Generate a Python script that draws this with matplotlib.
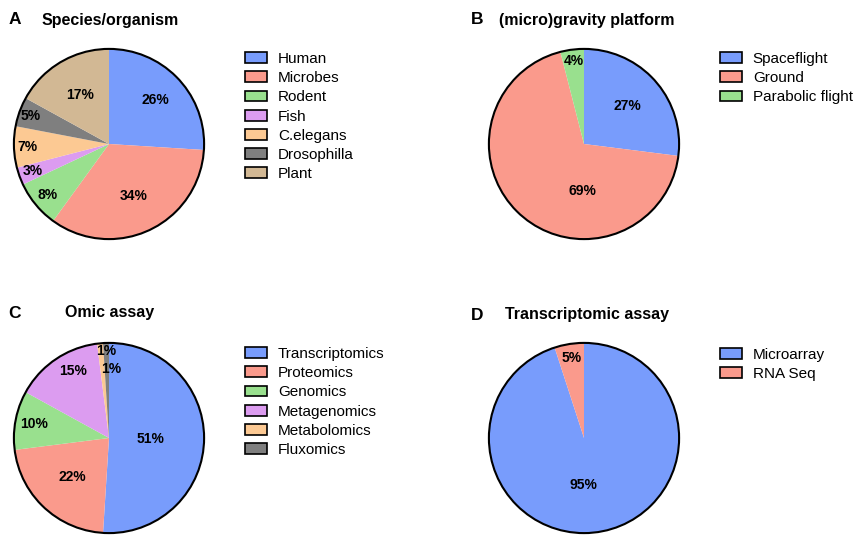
import numpy as np
import matplotlib
matplotlib.use("Agg")
import matplotlib.pyplot as plt
from matplotlib.patches import Patch, Circle

plt.rcParams['font.family'] = ['Liberation Sans', 'DejaVu Sans']

# ---- data ----
species_labels = ["Human", "Microbes", "Rodent", "Fish", "C.elegans", "Drosophilla", "Plant"]
species_values = [26, 34, 8, 3, 7, 5, 17]

platform_labels = ["Spaceflight", "Ground", "Parabolic flight"]
platform_values = [27, 69, 4]

omic_labels = ["Transcriptomics", "Proteomics", "Genomics", "Metagenomics", "Metabolomics", "Fluxomics"]
omic_values = [51, 22, 10, 15, 1, 1]

transcript_labels = ["Microarray", "RNA Seq"]
transcript_values = [95, 5]

# ---- styles ----
BLUE = "#789cfc"
RED = "#fa9a8c"
GREEN = "#99e08e"
PINK = "#dc9cf0"
ORANGE = "#fcc993"
GRAY = "#7f7f7f"
TAN = "#d2b894"

W, H = 857, 536
fig = plt.figure(figsize=(W / 100, H / 100), dpi=100)
R = 97


def draw_pie(cx, cy, values, labels, colors, dists, legend_xy, title_letter, letter_xy, title, title_xy,
             label_override=None):
    ax = fig.add_axes([(cx - R) / W, (H - cy - R) / H, 2 * R / W, 2 * R / H])
    wedges, texts, autotexts = ax.pie(values, colors=colors, startangle=90, counterclock=False,
                                      autopct=lambda p: f"{p:.0f}%", radius=1,
                                      wedgeprops=dict(linewidth=0),
                                      textprops=dict(fontsize=10, fontweight='bold', color='black'))
    ax.add_patch(Circle((0, 0), 1, fill=False, edgecolor='black', linewidth=1.5))
    for w, t, d in zip(wedges, autotexts, dists):
        ang = np.deg2rad((w.theta1 + w.theta2) / 2)
        t.set_position((d * np.cos(ang), d * np.sin(ang)))
    if label_override:
        for i, pos in label_override.items():
            autotexts[i].set_position(pos)
    ax.set_xlim(-1.02, 1.02)
    ax.set_ylim(-1.02, 1.02)
    ax.set_aspect('equal')
    ax.axis('off')
    handles = [Patch(facecolor=c, edgecolor='black', linewidth=1.2) for c in colors]
    fig.legend(handles, labels, loc='upper left',
               bbox_to_anchor=(legend_xy[0] / W, 1 - legend_xy[1] / H),
               frameon=False, fontsize=11, handlelength=1.45, handleheight=0.72,
               handletextpad=0.7, labelspacing=0.34, borderpad=0, borderaxespad=0)
    fig.text(letter_xy[0] / W, 1 - letter_xy[1] / H, title_letter, fontsize=12.5, fontweight='bold',
             va='center', ha='left')
    fig.text(title_xy[0] / W, 1 - title_xy[1] / H, title, fontsize=11.5, fontweight='bold',
             va='center', ha='left')


draw_pie(109, 144, species_values, species_labels, [BLUE, RED, GREEN, PINK, ORANGE, GRAY, TAN],
         [0.67, 0.61, 0.84, 0.85, 0.86, 0.88, 0.6], (245, 52), "A", (9, 20), "Species/organism", (42, 20))

draw_pie(584, 144, platform_values, platform_labels, [BLUE, RED, GREEN],
         [0.61, 0.5, 0.88], (720, 52), "B", (471, 20), "(micro)gravity platform", (499, 20),
         label_override={1: (-0.02, -0.49)})

draw_pie(109, 438, omic_values, omic_labels, [BLUE, RED, GREEN, PINK, ORANGE, GRAY],
         [0.44, 0.56, 0.80, 0.8, 0.92, 0.72], (245, 347), "C", (8, 313), "Omic assay", (65, 313),
         label_override={3: (-0.38, 0.70), 4: (-0.03, 0.91), 5: (0.02, 0.73)})

draw_pie(584, 438, transcript_values, transcript_labels, [BLUE, RED],
         [0.53, 0.85], (720, 348), "D", (471, 315), "Transcriptomic assay", (505, 315),
         label_override={0: (-0.01, -0.49)})

fig.savefig("out.png", dpi=100, facecolor='white')
